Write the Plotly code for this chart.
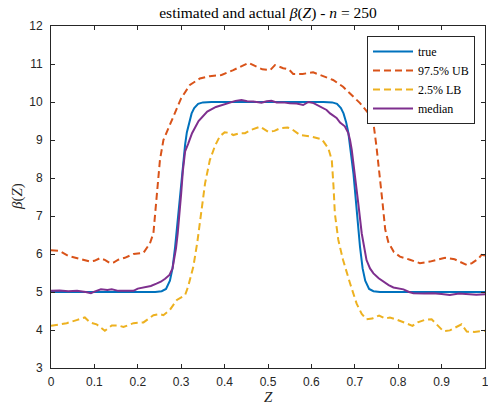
import plotly.graph_objects as go

# ---- data ----
z_true = [0.0, 0.24, 0.255, 0.265, 0.274, 0.28, 0.286, 0.292, 0.297, 0.301, 0.305, 0.309,
          0.313, 0.318, 0.324, 0.33, 0.339, 0.35, 0.37,
          0.628, 0.648, 0.659, 0.668, 0.674, 0.68, 0.685, 0.689, 0.693, 0.697, 0.701,
          0.706, 0.712, 0.718, 0.724, 0.733, 0.743, 0.758, 1.0]
beta_true = [5.0, 5.0, 5.02, 5.08, 5.3, 5.62, 6.19, 6.9, 7.6, 8.1, 8.47, 8.88,
             9.2, 9.47, 9.7, 9.84, 9.95, 9.99, 10.0,
             10.0, 9.99, 9.95, 9.84, 9.7, 9.47, 9.2, 8.88, 8.47, 8.1, 7.6,
             6.9, 6.19, 5.62, 5.3, 5.08, 5.02, 5.0, 5.0]

z_ub = [0.0, 0.02, 0.04, 0.059, 0.075, 0.09, 0.1, 0.113, 0.125, 0.136, 0.145, 0.155, 0.17,
        0.19, 0.213, 0.228, 0.236, 0.243, 0.251, 0.259, 0.27, 0.285, 0.3, 0.32, 0.343,
        0.366, 0.393, 0.42, 0.443, 0.455, 0.47, 0.487, 0.505, 0.516, 0.535, 0.548, 0.558,
        0.58, 0.604, 0.627, 0.65, 0.673, 0.693, 0.712, 0.731, 0.743, 0.75, 0.758, 0.764,
        0.77, 0.777, 0.79, 0.804, 0.827, 0.85, 0.873, 0.89, 0.908, 0.93, 0.945, 0.958,
        0.97, 0.985, 0.992, 1.0]
ub = [6.10, 6.08, 5.95, 5.89, 5.85, 5.80, 5.82, 5.89, 5.84, 5.76, 5.78, 5.85, 5.90,
      6.00, 6.03, 6.28, 6.55, 7.5, 8.47, 9.0, 9.3, 9.7, 10.1, 10.45, 10.62,
      10.68, 10.71, 10.84, 10.97, 11.03, 10.95, 10.86, 10.84, 10.97, 10.89, 10.86, 10.74,
      10.74, 10.78, 10.67, 10.58, 10.40, 10.18, 9.97, 9.71, 9.44, 8.82, 8.03, 7.34,
      6.65, 6.32, 6.05, 5.93, 5.85, 5.76, 5.80, 5.84, 5.90, 5.86, 5.78, 5.71,
      5.76, 5.88, 5.98, 5.96]

z_lb = [0.0, 0.036, 0.059, 0.078, 0.09, 0.105, 0.124, 0.14, 0.155, 0.167, 0.19, 0.213,
        0.236, 0.25, 0.259, 0.274, 0.29, 0.309, 0.316, 0.328, 0.337, 0.343, 0.351, 0.355,
        0.366, 0.378, 0.389, 0.40, 0.412, 0.42, 0.435, 0.447, 0.462, 0.482, 0.5, 0.515,
        0.528, 0.545, 0.553, 0.574, 0.6, 0.624, 0.639, 0.647, 0.651, 0.654, 0.662, 0.673,
        0.689, 0.704, 0.716, 0.727, 0.74, 0.756, 0.77, 0.781, 0.795, 0.811, 0.833, 0.845,
        0.862, 0.877, 0.89, 0.904, 0.919, 0.935, 0.946, 0.958, 0.975, 1.0]
lb = [4.11, 4.18, 4.26, 4.33, 4.20, 4.15, 3.98, 4.12, 4.12, 4.08, 4.18, 4.20,
      4.39, 4.42, 4.39, 4.53, 4.79, 4.92, 5.14, 5.67, 6.30, 6.80, 7.50, 7.86,
      8.47, 8.85, 9.10, 9.20, 9.19, 9.13, 9.18, 9.18, 9.27, 9.35, 9.22, 9.24,
      9.31, 9.33, 9.30, 9.13, 9.09, 9.02, 8.78, 8.47, 7.77, 7.07, 6.37, 5.84,
      5.23, 4.70, 4.42, 4.28, 4.30, 4.38, 4.30, 4.33, 4.28, 4.20, 4.11, 4.20,
      4.27, 4.28, 4.12, 3.97, 3.99, 4.08, 4.15, 3.96, 3.95, 3.98]

z_med = [0.0, 0.02, 0.04, 0.06, 0.08, 0.092, 0.1, 0.115, 0.13, 0.14, 0.155, 0.175, 0.19,
         0.2, 0.215, 0.23, 0.243, 0.253, 0.263, 0.273, 0.28, 0.284, 0.288, 0.292, 0.296,
         0.3, 0.304, 0.309, 0.316, 0.325, 0.34, 0.36, 0.38, 0.395, 0.41, 0.425, 0.439,
         0.452, 0.466, 0.485, 0.497, 0.508, 0.52, 0.535, 0.55, 0.566, 0.581, 0.593, 0.605,
         0.62, 0.635, 0.643, 0.658, 0.666, 0.677, 0.685, 0.689, 0.693, 0.70, 0.708, 0.716,
         0.722, 0.727, 0.735, 0.743, 0.755, 0.766, 0.778, 0.789, 0.8, 0.812, 0.825, 0.835,
         0.86, 0.88, 0.9, 0.919, 0.94, 0.96, 0.98, 1.0]
med = [5.03, 5.04, 5.02, 5.03, 5.00, 4.97, 5.01, 5.07, 5.05, 5.07, 5.03, 5.03, 5.03,
       5.09, 5.12, 5.16, 5.22, 5.27, 5.35, 5.45, 5.62, 5.84, 6.15, 6.55, 7.0,
       7.6, 8.21, 8.7, 8.9, 9.18, 9.5, 9.75, 9.87, 9.92, 9.98, 10.03, 10.05,
       10.02, 10.01, 9.98, 10.02, 10.03, 9.99, 9.99, 9.97, 9.96, 9.92, 10.0, 9.97,
       9.88, 9.79, 9.70, 9.58, 9.46, 9.36, 9.18, 9.0, 8.74, 8.12, 7.33, 6.54,
       6.1, 5.84, 5.62, 5.49, 5.36, 5.27, 5.18, 5.12, 5.10, 5.07, 5.0, 4.97,
       4.96, 4.97, 4.95, 4.92, 4.96, 4.95, 4.93, 4.94]

x_ticks = [0, 0.1, 0.2, 0.3, 0.4, 0.5, 0.6, 0.7, 0.8, 0.9, 1]
x_tick_text = ["0", "0.1", "0.2", "0.3", "0.4", "0.5", "0.6", "0.7", "0.8", "0.9", "1"]
y_ticks = [3, 4, 5, 6, 7, 8, 9, 10, 11, 12]

series = [
    ("true", z_true, beta_true, "#0072BD", "solid"),
    ("97.5% UB", z_ub, ub, "#D95319", "7px,4px"),
    ("2.5% LB", z_lb, lb, "#EDB120", "7px,4px"),
    ("median", z_med, med, "#7E2F8E", "solid"),
]

fig = go.Figure()
for name, xs, ys, col, dash in series:
    fig.add_trace(go.Scatter(x=xs, y=ys, mode="lines", name=name,
                             line=dict(color=col, width=2, dash=dash)))

axcol = "#262626"
serif = "Liberation Serif, DejaVu Serif, serif"
L, R, T, B = 51, 3, 26, 40
W, H = 488, 408
pw, ph = W - L - R, H - T - B

fig.update_layout(
    width=W, height=H,
    margin=dict(l=L, r=R, t=T, b=B, autoexpand=False),
    paper_bgcolor="white", plot_bgcolor="white",
    font=dict(family="Liberation Sans, Arial, sans-serif", size=12, color=axcol),
    title=dict(text="estimated and actual <i>β</i>(<i>Z</i>) - <i>n</i> = 250",
               x=(L + (W - R)) / 2 / W, xanchor="center", y=1 - 13 / H, yanchor="middle",
               font=dict(family=serif, size=15.5, color="#000000")),
    showlegend=True,
    legend=dict(x=(475 - L) / pw, xanchor="right", y=(H - B - 36) / ph, yanchor="top",
                bgcolor="white", bordercolor=axcol, borderwidth=1,
                font=dict(family=serif, size=12, color="#000000"),
                tracegroupgap=0, itemwidth=40),
    annotations=[
        dict(text="<i>β</i>(<i>Z</i>)", xref="paper", yref="paper",
             x=(17 - L) / pw, y=0.5, xanchor="center", yanchor="middle",
             textangle=-90, showarrow=False,
             font=dict(family=serif, size=15, color=axcol)),
        dict(text="<i>Z</i>", xref="paper", yref="paper",
             x=0.5, y=-(397 - (H - B)) / ph, xanchor="center", yanchor="middle",
             showarrow=False, font=dict(family=serif, size=15, color=axcol)),
    ],
)
fig.update_xaxes(range=[0, 1], tickvals=x_ticks, ticktext=x_tick_text,
                 showgrid=False, zeroline=False, showline=True, linecolor=axcol,
                 linewidth=1, mirror="ticks", ticks="inside", ticklen=4,
                 tickcolor=axcol, automargin=False, ticklabeloverflow="allow",
                 ticklabelstandoff=3)
fig.update_yaxes(range=[3, 12], tickvals=y_ticks,
                 showgrid=False, zeroline=False, showline=True, linecolor=axcol,
                 linewidth=1, mirror="ticks", ticks="inside", ticklen=4,
                 tickcolor=axcol, automargin=False, ticklabeloverflow="allow",
                 ticklabelstandoff=5)

fig.write_html("out.html", config={"displayModeBar": False},
               post_script="document.body.style.margin='0';document.body.style.overflow='hidden';")
